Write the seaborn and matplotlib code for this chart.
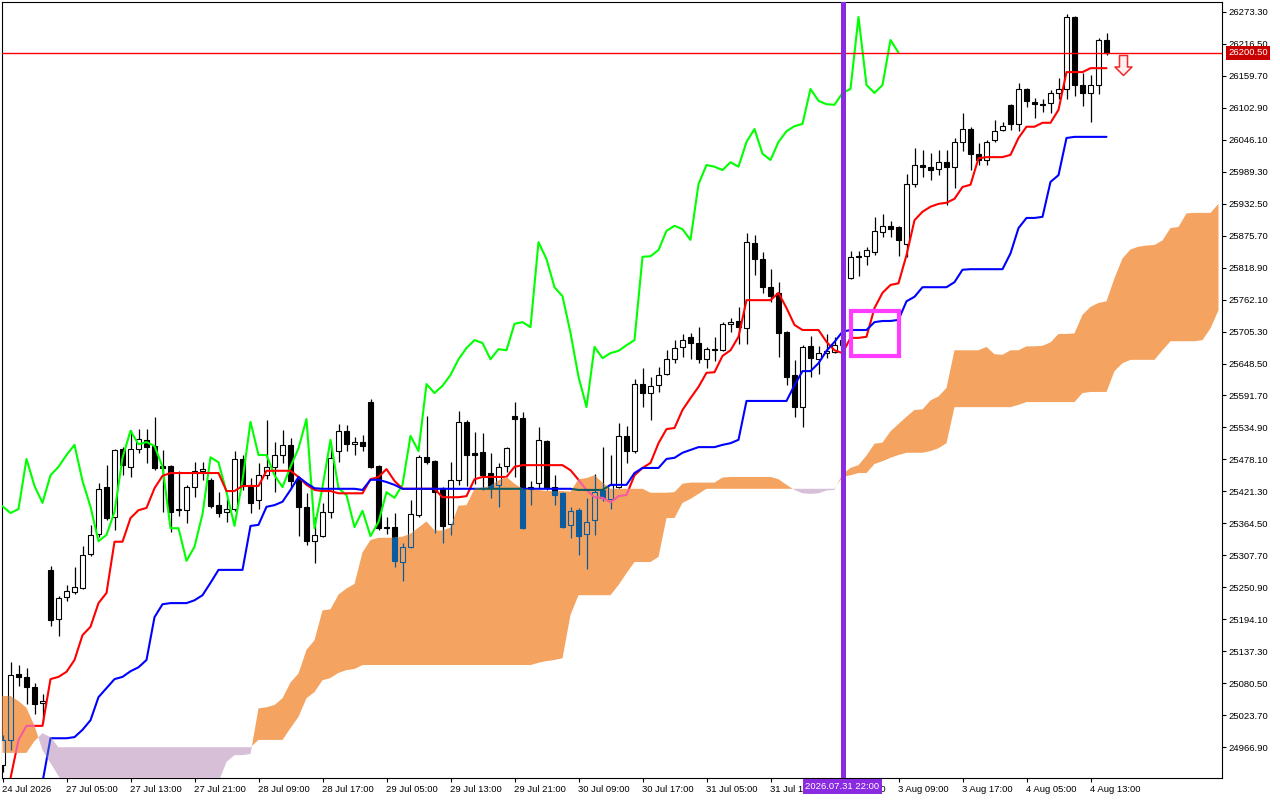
import numpy as np
import matplotlib
matplotlib.use("Agg")
import matplotlib.pyplot as plt
import matplotlib.transforms as mtransforms
from matplotlib.path import Path
from matplotlib.patches import Rectangle
import seaborn as sns

# === DATA (H1 candles) ===
open_ = [
    24935, 24980, 25097, 25092, 25074, 25046, 25282, 25195, 25234, 25243,
    25250, 25310, 25346, 25429, 25376, 25497, 25465, 25497, 25513, 25502,
    25466, 25466, 25388, 25388, 25429, 25458, 25442, 25397, 25385, 25390,
    25479, 25429, 25406, 25450, 25465, 25486, 25504, 25443, 25394, 25333,
    25342, 25385, 25493, 25529, 25505, 25509, 25580, 25466, 25358, 25358,
    25296, 25323, 25379, 25482, 25475, 25427, 25363, 25441, 25545, 25490,
    25491, 25454, 25433, 25466, 25555, 25552, 25426, 25436, 25511, 25429,
    25418, 25362, 25388, 25346, 25371, 25424, 25408, 25429, 25520, 25493,
    25612, 25596, 25610, 25630, 25656, 25678, 25696, 25685, 25656, 25674,
    25672, 25719, 25724, 25712, 25863, 25834, 25784, 25774, 25704, 25628,
    25571, 25680, 25656, 25667, 25669, 25681, 25800, 25838, 25839, 25847,
    25882, 25893, 25891, 25861, 25967, 26001, 25998, 25994, 26006, 25998,
    26042, 26065, 26021, 26010, 26045, 26063, 26108, 26074, 26136, 26113,
    26109, 26111, 26129, 26136, 26264, 26143, 26129, 26143, 26223,
]
high = [
    24989, 25118, 25113, 25108, 25081, 25061, 25289, 25236, 25255, 25287,
    25324, 25362, 25436, 25468, 25497, 25500, 25530, 25532, 25532, 25553,
    25495, 25468, 25458, 25433, 25474, 25474, 25445, 25420, 25408, 25493,
    25486, 25445, 25472, 25548, 25509, 25530, 25516, 25447, 25418, 25376,
    25401, 25500, 25541, 25539, 25518, 25521, 25585, 25468, 25376, 25383,
    25330, 25406, 25486, 25555, 25477, 25429, 25473, 25564, 25548, 25527,
    25525, 25490, 25472, 25500, 25580, 25562, 25440, 25536, 25513, 25450,
    25420, 25394, 25392, 25410, 25452, 25500, 25486, 25543, 25537, 25621,
    25640, 25625, 25642, 25672, 25690, 25701, 25703, 25713, 25678, 25696,
    25722, 25729, 25749, 25880, 25877, 25847, 25816, 25793, 25706, 25655,
    25682, 25697, 25680, 25701, 25696, 25700, 25848, 25848, 25855, 25909,
    25914, 25902, 25893, 25985, 26031, 26028, 26022, 26028, 26028, 26049,
    26093, 26068, 26040, 26045, 26081, 26077, 26110, 26147, 26138, 26120,
    26118, 26134, 26156, 26269, 26266, 26164, 26161, 26226, 26235,
]
low = [
    24923, 24962, 25076, 25044, 25026, 25010, 25182, 25165, 25227, 25239,
    25248, 25307, 25340, 25371, 25353, 25450, 25447, 25490, 25472, 25459,
    25385, 25349, 25378, 25365, 25411, 25442, 25392, 25376, 25367, 25386,
    25424, 25383, 25390, 25443, 25420, 25472, 25427, 25342, 25326, 25294,
    25340, 25374, 25473, 25493, 25486, 25493, 25463, 25353, 25346, 25287,
    25262, 25320, 25376, 25470, 25347, 25330, 25344, 25433, 25431, 25434,
    25424, 25410, 25394, 25456, 25447, 25355, 25397, 25427, 25424, 25397,
    25356, 25339, 25308, 25284, 25344, 25404, 25390, 25427, 25472, 25490,
    25571, 25548, 25598, 25628, 25649, 25660, 25656, 25649, 25640, 25653,
    25670, 25704, 25683, 25683, 25806, 25774, 25758, 25660, 25610, 25553,
    25536, 25625, 25630, 25658, 25667, 25672, 25798, 25804, 25823, 25841,
    25873, 25873, 25839, 25838, 25962, 25980, 25974, 25983, 25930, 25960,
    26026, 25992, 26001, 26001, 26042, 26061, 26063, 26061, 26104, 26085,
    26095, 26093, 26118, 26118, 26124, 26106, 26077, 26127, 26196,
]
close = [
    24980, 25095, 25092, 25074, 25044, 25049, 25193, 25232, 25244, 25252,
    25308, 25344, 25426, 25374, 25495, 25468, 25497, 25514, 25500, 25463,
    25463, 25385, 25390, 25429, 25458, 25461, 25395, 25383, 25390, 25479,
    25431, 25401, 25450, 25465, 25486, 25504, 25440, 25394, 25333, 25344,
    25385, 25481, 25529, 25505, 25509, 25502, 25465, 25356, 25356, 25298,
    25323, 25381, 25482, 25473, 25420, 25360, 25441, 25545, 25486, 25486,
    25450, 25429, 25465, 25498, 25550, 25356, 25429, 25513, 25427, 25415,
    25358, 25387, 25342, 25367, 25420, 25410, 25433, 25520, 25493, 25612,
    25596, 25609, 25628, 25656, 25676, 25690, 25685, 25656, 25674, 25672,
    25719, 25722, 25713, 25864, 25834, 25784, 25768, 25703, 25625, 25571,
    25678, 25658, 25667, 25671, 25681, 25690, 25838, 25839, 25850, 25884,
    25893, 25887, 25868, 25967, 26001, 25998, 25992, 26006, 25998, 26042,
    26065, 26021, 26010, 26042, 26061, 26070, 26074, 26136, 26115, 26109,
    26108, 26129, 26136, 26264, 26143, 26129, 26143, 26223, 26200.5,
]

# Ichimoku lines (read per bar)
tenkan = [
    24880, 24912, 24980, 25005, 25005, 25005, 25088, 25092, 25101, 25122,
    25166, 25181, 25223, 25241, 25332, 25332, 25374, 25388, 25392, 25427,
    25449, 25454, 25454, 25454, 25454, 25454, 25454, 25454, 25422, 25422,
    25431, 25431, 25431, 25458, 25458, 25458, 25458, 25447, 25433, 25424,
    25422, 25422, 25418, 25418, 25418, 25418, 25443, 25447, 25461, 25440,
    25426, 25426, 25426, 25426, 25426, 25411, 25411, 25411, 25413, 25443,
    25447, 25447, 25447, 25447, 25465, 25468, 25468, 25468, 25468, 25468,
    25468, 25459, 25442, 25424, 25411, 25410, 25402, 25413, 25415, 25450,
    25463, 25472, 25507, 25532, 25534, 25566, 25587, 25607, 25632, 25633,
    25662, 25672, 25696, 25761, 25761, 25761, 25761, 25774, 25747, 25717,
    25708, 25708, 25708, 25687, 25672, 25667, 25694, 25694, 25696, 25747,
    25774, 25788, 25791, 25841, 25903, 25918, 25927, 25932, 25934, 25941,
    25962, 25966, 26013, 26015, 26015, 26015, 26019, 26049, 26069, 26069,
    26076, 26076, 26099, 26166, 26166, 26166, 26173, 26173, 26173,
]
kijun = [
    24895, 24898, 24902, 24900, 24900, 24905, 24983, 24983, 24983, 24985,
    24998, 25015, 25056, 25072, 25088, 25092, 25102, 25109, 25122, 25198,
    25221, 25223, 25223, 25223, 25228, 25237, 25259, 25282, 25282, 25282,
    25282, 25360, 25362, 25394, 25397, 25403, 25424, 25447, 25436, 25427,
    25426, 25426, 25426, 25426, 25426, 25424, 25442, 25442, 25438, 25433,
    25426, 25426, 25426, 25426, 25426, 25426, 25426, 25426, 25426, 25426,
    25426, 25426, 25426, 25426, 25426, 25426, 25426, 25426, 25426, 25426,
    25426, 25426, 25424, 25424, 25424, 25424, 25433, 25433, 25433, 25454,
    25463, 25463, 25463, 25479, 25481, 25490, 25495, 25500, 25500, 25500,
    25504, 25507, 25513, 25582, 25582, 25582, 25582, 25582, 25582, 25610,
    25635, 25635, 25649, 25671, 25687, 25705, 25708, 25708, 25708, 25722,
    25724, 25724, 25726, 25759, 25767, 25784, 25784, 25784, 25784, 25793,
    25815, 25816, 25816, 25816, 25816, 25816, 25844, 25889, 25907, 25907,
    25909, 25971, 25983, 26049, 26051, 26051, 26051, 26051, 26051,
]
# Senkou spans, already displaced 26 bars ahead (153 positions)
span_a = [
    25058, 25058, 25049, 25037, 25005, 24962, 24939, 24916, 24898, 24892,
    24886, 24880, 24876, 24872, 24870, 24868, 24868, 24870, 24872, 24874,
    24876, 24878, 24880, 24882, 24884, 24886, 24888, 24905, 24941, 24953,
    24953, 24955, 25036, 25038, 25042, 25054, 25082, 25098, 25140, 25157,
    25210, 25212, 25238, 25249, 25257, 25313, 25335, 25339, 25339, 25339,
    25341, 25346, 25357, 25368, 25352, 25352, 25357, 25396, 25397, 25426,
    25428, 25431, 25441, 25447, 25435, 25426, 25424, 25424, 25422, 25422,
    25422, 25421, 25443, 25445, 25450, 25437, 25426, 25426, 25426, 25426,
    25426, 25419, 25419, 25419, 25420, 25435, 25437, 25437, 25437, 25437,
    25446, 25447, 25447, 25447, 25447, 25447, 25447, 25443, 25433, 25424,
    25418, 25417, 25418, 25423, 25424, 25452, 25463, 25468, 25485, 25506,
    25508, 25528, 25541, 25554, 25566, 25567, 25583, 25590, 25605, 25672,
    25672, 25672, 25672, 25678, 25665, 25664, 25672, 25672, 25679, 25679,
    25680, 25686, 25701, 25701, 25702, 25735, 25749, 25756, 25759, 25800,
    25835, 25851, 25856, 25858, 25859, 25867, 25889, 25891, 25915, 25916,
    25916, 25916, 25932,
]
span_b = [
    24957, 24957, 24957, 24957, 24978, 24992, 24985, 24967, 24967, 24967,
    24967, 24967, 24967, 24967, 24967, 24967, 24967, 24967, 24967, 24967,
    24967, 24967, 24967, 24967, 24967, 24967, 24967, 24967, 24967, 24967,
    24967, 24967, 24980, 24980, 24980, 24980, 25001, 25021, 25054, 25065,
    25086, 25090, 25099, 25104, 25106, 25113, 25113, 25113, 25113, 25113,
    25113, 25113, 25113, 25113, 25113, 25113, 25113, 25113, 25113, 25113,
    25113, 25113, 25113, 25113, 25113, 25113, 25113, 25117, 25120, 25122,
    25125, 25202, 25237, 25237, 25237, 25237, 25237, 25255, 25276, 25296,
    25296, 25296, 25305, 25374, 25374, 25401, 25408, 25417, 25426, 25426,
    25426, 25426, 25426, 25426, 25426, 25426, 25426, 25426, 25426, 25426,
    25426, 25426, 25426, 25426, 25426, 25447, 25450, 25454, 25454, 25470,
    25475, 25481, 25486, 25490, 25490, 25490, 25493, 25498, 25507, 25571,
    25571, 25571, 25571, 25571, 25571, 25571, 25571, 25575, 25580, 25580,
    25580, 25580, 25580, 25580, 25580, 25596, 25598, 25598, 25598, 25635,
    25649, 25655, 25655, 25655, 25655, 25672, 25688, 25688, 25688, 25688,
    25690, 25711, 25743,
]
CHIKOU_SHIFT = 26

price_ticks = [24966.90, 25023.70, 25080.50, 25137.30, 25194.10, 25250.90,
               25307.70, 25364.50, 25421.30, 25478.10, 25534.90, 25591.70,
               25648.50, 25705.30, 25762.10, 25818.90, 25875.70, 25932.50,
               25989.30, 26046.10, 26102.90, 26159.70, 26216.50, 26273.30]
time_labels = ["24 Jul 2026", "27 Jul 05:00", "27 Jul 13:00", "27 Jul 21:00",
               "28 Jul 09:00", "28 Jul 17:00", "29 Jul 05:00", "29 Jul 13:00",
               "29 Jul 21:00", "30 Jul 09:00", "30 Jul 17:00", "31 Jul 05:00",
               "31 Jul 13:00", "31 Jul 21:00", "3 Aug 09:00", "3 Aug 17:00",
               "4 Aug 05:00", "4 Aug 13:00"]
LABEL_STEP = 8

bid_price = 26200.5
vline_bar = 105
vline_label = "2026.07.31 22:00"
box_bars = (106, 112)
box_prices = (25662, 25742)
arrow_bar = 140
arrow_price = 26179

# === STYLE ===
sns.set_theme(style="white")
plt.rcParams['font.family'] = ['Liberation Sans', 'DejaVu Sans']
FS = 6.8
BODY_W = 0.62

SANDY, THISTLE = "#f4a460", "#d8bfd8"
# colours the terminal produces where things cross the cloud (xor blend)
XOR_ORANGE = {"black": "#0b5b9f", "red": "#f45b9f", "blue": "#0b5b60", "lime": "#0ba49f"}
XOR_LILAC = {"black": "#274027", "red": "#d84027", "blue": "#2740d8", "lime": "#27bf27"}

o, h, l, c = (np.asarray(v, dtype=float) for v in (open_, high, low, close))
tk, kj = np.asarray(tenkan, float), np.asarray(kijun, float)
sa, sb = np.asarray(span_a, float), np.asarray(span_b, float)
bars = np.arange(len(c))
cloud_x = np.arange(len(sa))
chikou_x = bars[:len(c) - CHIKOU_SHIFT]
chikou_y = c[CHIKOU_SHIFT:]

fig = plt.figure(figsize=(12.8, 8), dpi=100)
ax = fig.add_axes([2 / 1280, 22 / 800, 1220 / 1280, 776 / 800])
ax.set_facecolor("white")


def draw_candles(edge, bull_face, bear_face, z):
    up = c >= o
    top, bot = np.maximum(o, c), np.minimum(o, c)
    arts = [ax.vlines(bars, top, h, colors=edge, linewidth=0.9, zorder=z),
            ax.vlines(bars, l, bot, colors=edge, linewidth=0.9, zorder=z)]
    b1 = ax.bar(bars[up], (c - o)[up], bottom=o[up], width=BODY_W,
                facecolor=bull_face, edgecolor=edge, linewidth=0.8, zorder=z)
    b2 = ax.bar(bars[~up], (o - c)[~up], bottom=c[~up], width=BODY_W,
                facecolor=bear_face, edgecolor=edge, linewidth=0.8, zorder=z)
    return arts + list(b1.patches) + list(b2.patches)


def draw_lines(colors, z):
    arts = []
    for xs, ys, key in ((chikou_x, chikou_y, "lime"), (bars, tk, "red"), (bars, kj, "blue")):
        sns.lineplot(x=xs, y=ys, color=colors[key], linewidth=1.5, estimator=None,
                     sort=False, legend=False, ax=ax, zorder=z)
        arts.append(ax.lines[-1])
    return arts


draw_candles("black", "white", "black", 3)
draw_lines({"lime": "#00ff00", "red": "#ff0000", "blue": "#0000ff"}, 4)

# Kumo
up_cloud = ax.fill_between(cloud_x, sa, sb, where=sa >= sb, interpolate=True,
                           facecolor=SANDY, edgecolor="none", linewidth=0, zorder=5)
dn_cloud = ax.fill_between(cloud_x, sa, sb, where=sa < sb, interpolate=True,
                           facecolor=THISTLE, edgecolor="none", linewidth=0, zorder=5)

for coll, cmap in ((up_cloud, XOR_ORANGE), (dn_cloud, XOR_LILAC)):
    clip = Path.make_compound_path(*coll.get_paths())
    for art in draw_candles(cmap["black"], "none", cmap["black"], 6) + draw_lines(cmap, 6):
        art.set_clip_path(clip, ax.transData)

# objects
ax.axhline(bid_price, color="#ff0000", linewidth=1.0, zorder=7)
ax.axvline(vline_bar, color="#8a2be2", linewidth=3.6, zorder=9)
ax.add_patch(Rectangle((box_bars[0], box_prices[0]), box_bars[1] - box_bars[0],
                       box_prices[1] - box_prices[0], fill=False,
                       edgecolor="#ff3cff", linewidth=3.0, zorder=9))
arrow_path = Path([(-4, 10), (4, 10), (4, -1.5), (8.5, -1.5), (0, -10),
                   (-8.5, -1.5), (-4, -1.5), (-4, 10)],
                  [Path.MOVETO] + [Path.LINETO] * 6 + [Path.CLOSEPOLY])
ax.plot([arrow_bar], [arrow_price], marker=arrow_path, markersize=14.4, linestyle="none",
        markerfacecolor="#fff0f0", markeredgecolor="#f02828", markeredgewidth=1.1, zorder=8)

# axes
ax.set_xlim(-0.0625, -0.0625 + 1220 / 8)
ax.set_ylim(24912.4, 26290.5)
for s in ax.spines.values():
    s.set_color("black")
    s.set_linewidth(0.8)

ax.yaxis.tick_right()
ax.set_yticks(price_ticks)
ax.set_yticklabels([f"{v:.2f}" for v in price_ticks])
ax.tick_params(axis="y", right=True, left=False, direction="out", length=3.2,
               width=0.8, pad=1.6, labelsize=FS, colors="black")

ax.set_xticks(np.arange(len(time_labels)) * LABEL_STEP)
ax.set_xticklabels(time_labels)
ax.tick_params(axis="x", bottom=True, direction="out", length=3.2, width=0.8,
               pad=1.6, labelsize=FS, colors="black")
for lab in ax.get_xticklabels():
    lab.set_horizontalalignment("left")
ax.set_xlabel("")
ax.set_ylabel("")
ax.grid(False)

# price tag and time tag
tr = mtransforms.offset_copy(mtransforms.blended_transform_factory(ax.transAxes, ax.transData),
                             fig=fig, x=6, y=0, units="dots")
ax.text(1.0, bid_price, f"{bid_price:.2f}", transform=tr, ha="left", va="center",
        fontsize=FS, color="white", clip_on=False, zorder=20,
        bbox=dict(boxstyle="square,pad=0.25", facecolor="#c80000", edgecolor="none"))
tr2 = mtransforms.offset_copy(mtransforms.blended_transform_factory(ax.transData, ax.transAxes),
                              fig=fig, x=0, y=-4, units="dots")
ax.text(vline_bar, 0.0, vline_label, transform=tr2, ha="center", va="top",
        fontsize=FS, color="white", clip_on=False, zorder=20,
        bbox=dict(boxstyle="square,pad=0.3", facecolor="#8a2be2", edgecolor="none"))

fig.savefig("out.png", dpi=100, facecolor="white")
